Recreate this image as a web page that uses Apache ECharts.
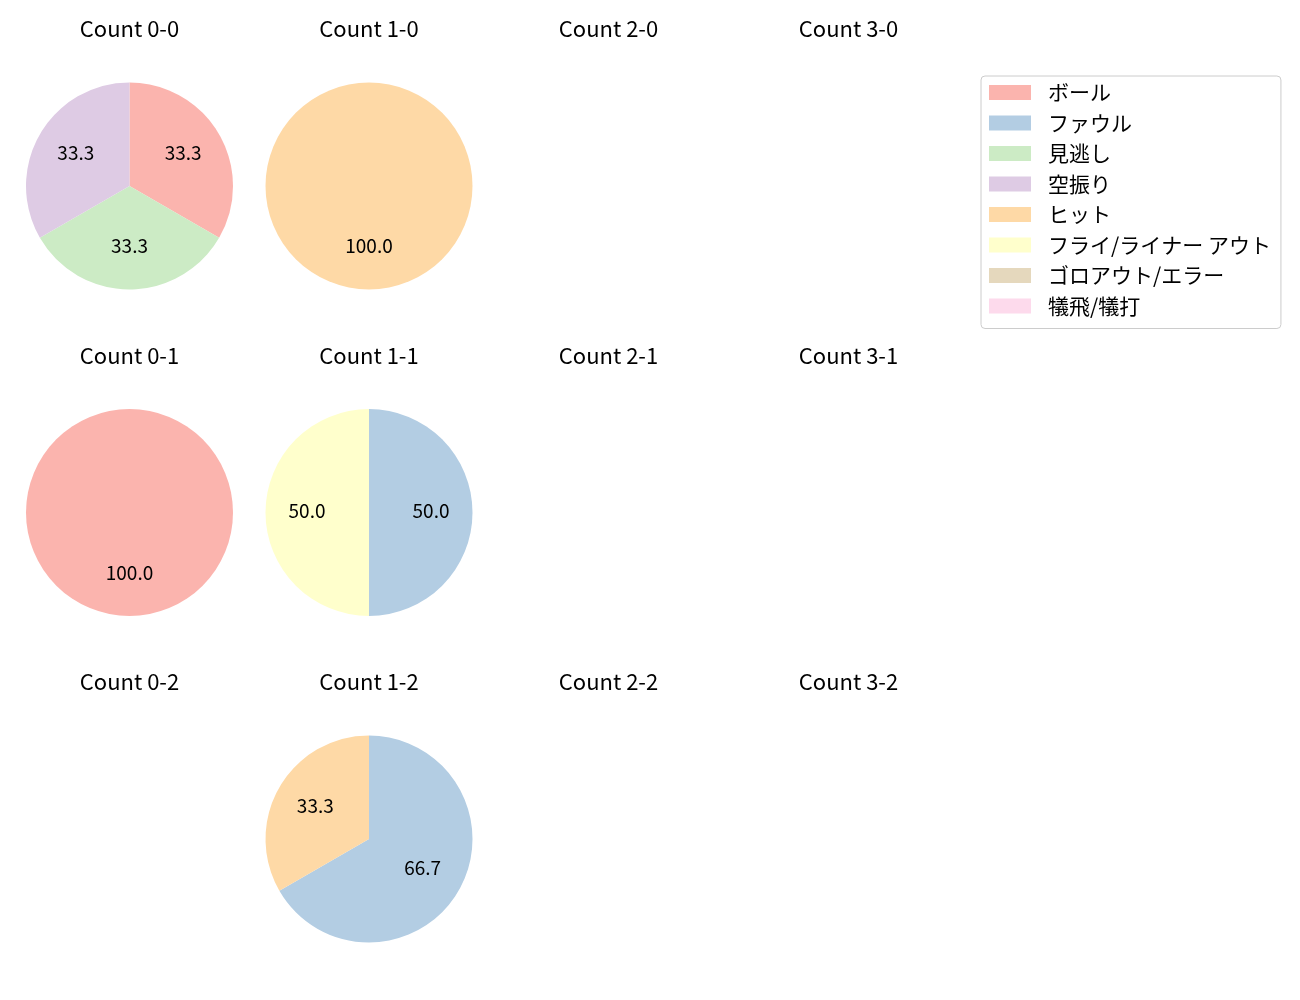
<!DOCTYPE html>
<html><head><meta charset="utf-8">
<script src="https://cdn.jsdelivr.net/npm/echarts@6/dist/echarts.min.js"></script>
<style>html,body{margin:0;padding:0;background:#fff}#c{width:1300px;height:1000px}</style>
</head><body><div id="c"></div>
<script>
const categories = ['ボール','ファウル','見逃し','空振り','ヒット','フライ/ライナー アウト','ゴロアウト/エラー','犠飛/犠打'];
const colors = ['#fbb4ae','#b3cde3','#ccebc5','#decbe4','#fed9a6','#ffffcc','#e5d8bd','#fddaec'];
const balls = [0,1,2,3];
const strikes = [0,1,2];
// counts per category for each ball-strike count (missing = no data)
const count_0_0 = [1,0,1,1,0,0,0,0];
const count_1_0 = [0,0,0,0,1,0,0,0];
const count_0_1 = [1,0,0,0,0,0,0,0];
const count_1_1 = [0,1,0,0,0,1,0,0];
const count_1_2 = [0,2,0,0,1,0,0,0];
const countData = {'0-0':count_0_0,'1-0':count_1_0,'0-1':count_0_1,'1-1':count_1_1,'1-2':count_1_2};

const colX = [129.5, 369, 608.5, 848.5];
const rowY = [186, 512.5, 839];
const titleY = [29, 356, 682];
const R = 103.5;
const FONT = '"Noto Sans CJK JP", "Noto Sans", sans-serif';

const graphics = [];
const series = [];
strikes.forEach((s, si) => {
  balls.forEach((b, bi) => {
    const key = b + '-' + s;
    graphics.push({type: 'text', x: colX[bi], y: titleY[si], silent: true,
      style: {text: 'Count ' + key, align: 'center', verticalAlign: 'middle', font: '22px ' + FONT, fill: '#000'}});
    const vals = countData[key];
    if (!vals) return;
    const total = vals.reduce((a, c) => a + c, 0);
    const data = categories.map((n, i) => ({name: n, value: vals[i], itemStyle: {color: colors[i]}}));
    series.push({type: 'pie', center: [colX[bi], rowY[si]], radius: [0, R], startAngle: 90, clockwise: true,
      data: data, label: {show: false}, labelLine: {show: false}, itemStyle: {borderWidth: 0},
      emphasis: {disabled: true}, animation: false, silent: true});
    series.push({type: 'pie', center: [colX[bi], rowY[si] - 2], radius: [R * 0.14, R], startAngle: 90, clockwise: true,
      data: data.map(d => ({name: d.name, value: d.value, itemStyle: {color: 'rgba(0,0,0,0)'}})),
      label: {show: true, position: 'inside', fontFamily: FONT, fontSize: 19, color: '#000',
        formatter: p => p.value > 0 ? (p.value / total * 100).toFixed(1) : ''},
      labelLine: {show: false}, itemStyle: {borderWidth: 0}, emphasis: {disabled: true}, animation: false, silent: true});
  });
});

const chart = echarts.init(document.getElementById('c'));
chart.setOption({
  animation: false,
  graphic: graphics,
  legend: {data: categories, orient: 'vertical', left: 981, top: 76, padding: [6, 10, 12, 8],
    itemWidth: 42, itemHeight: 15, itemGap: 9.5, icon: 'rect', selectedMode: false,
    borderColor: '#cccccc', borderWidth: 1, borderRadius: 4,
    textStyle: {fontFamily: FONT, fontSize: 21, lineHeight: 20, color: '#000', padding: [0, 0, 0, 12]}},
  series: series
});
</script></body></html>
